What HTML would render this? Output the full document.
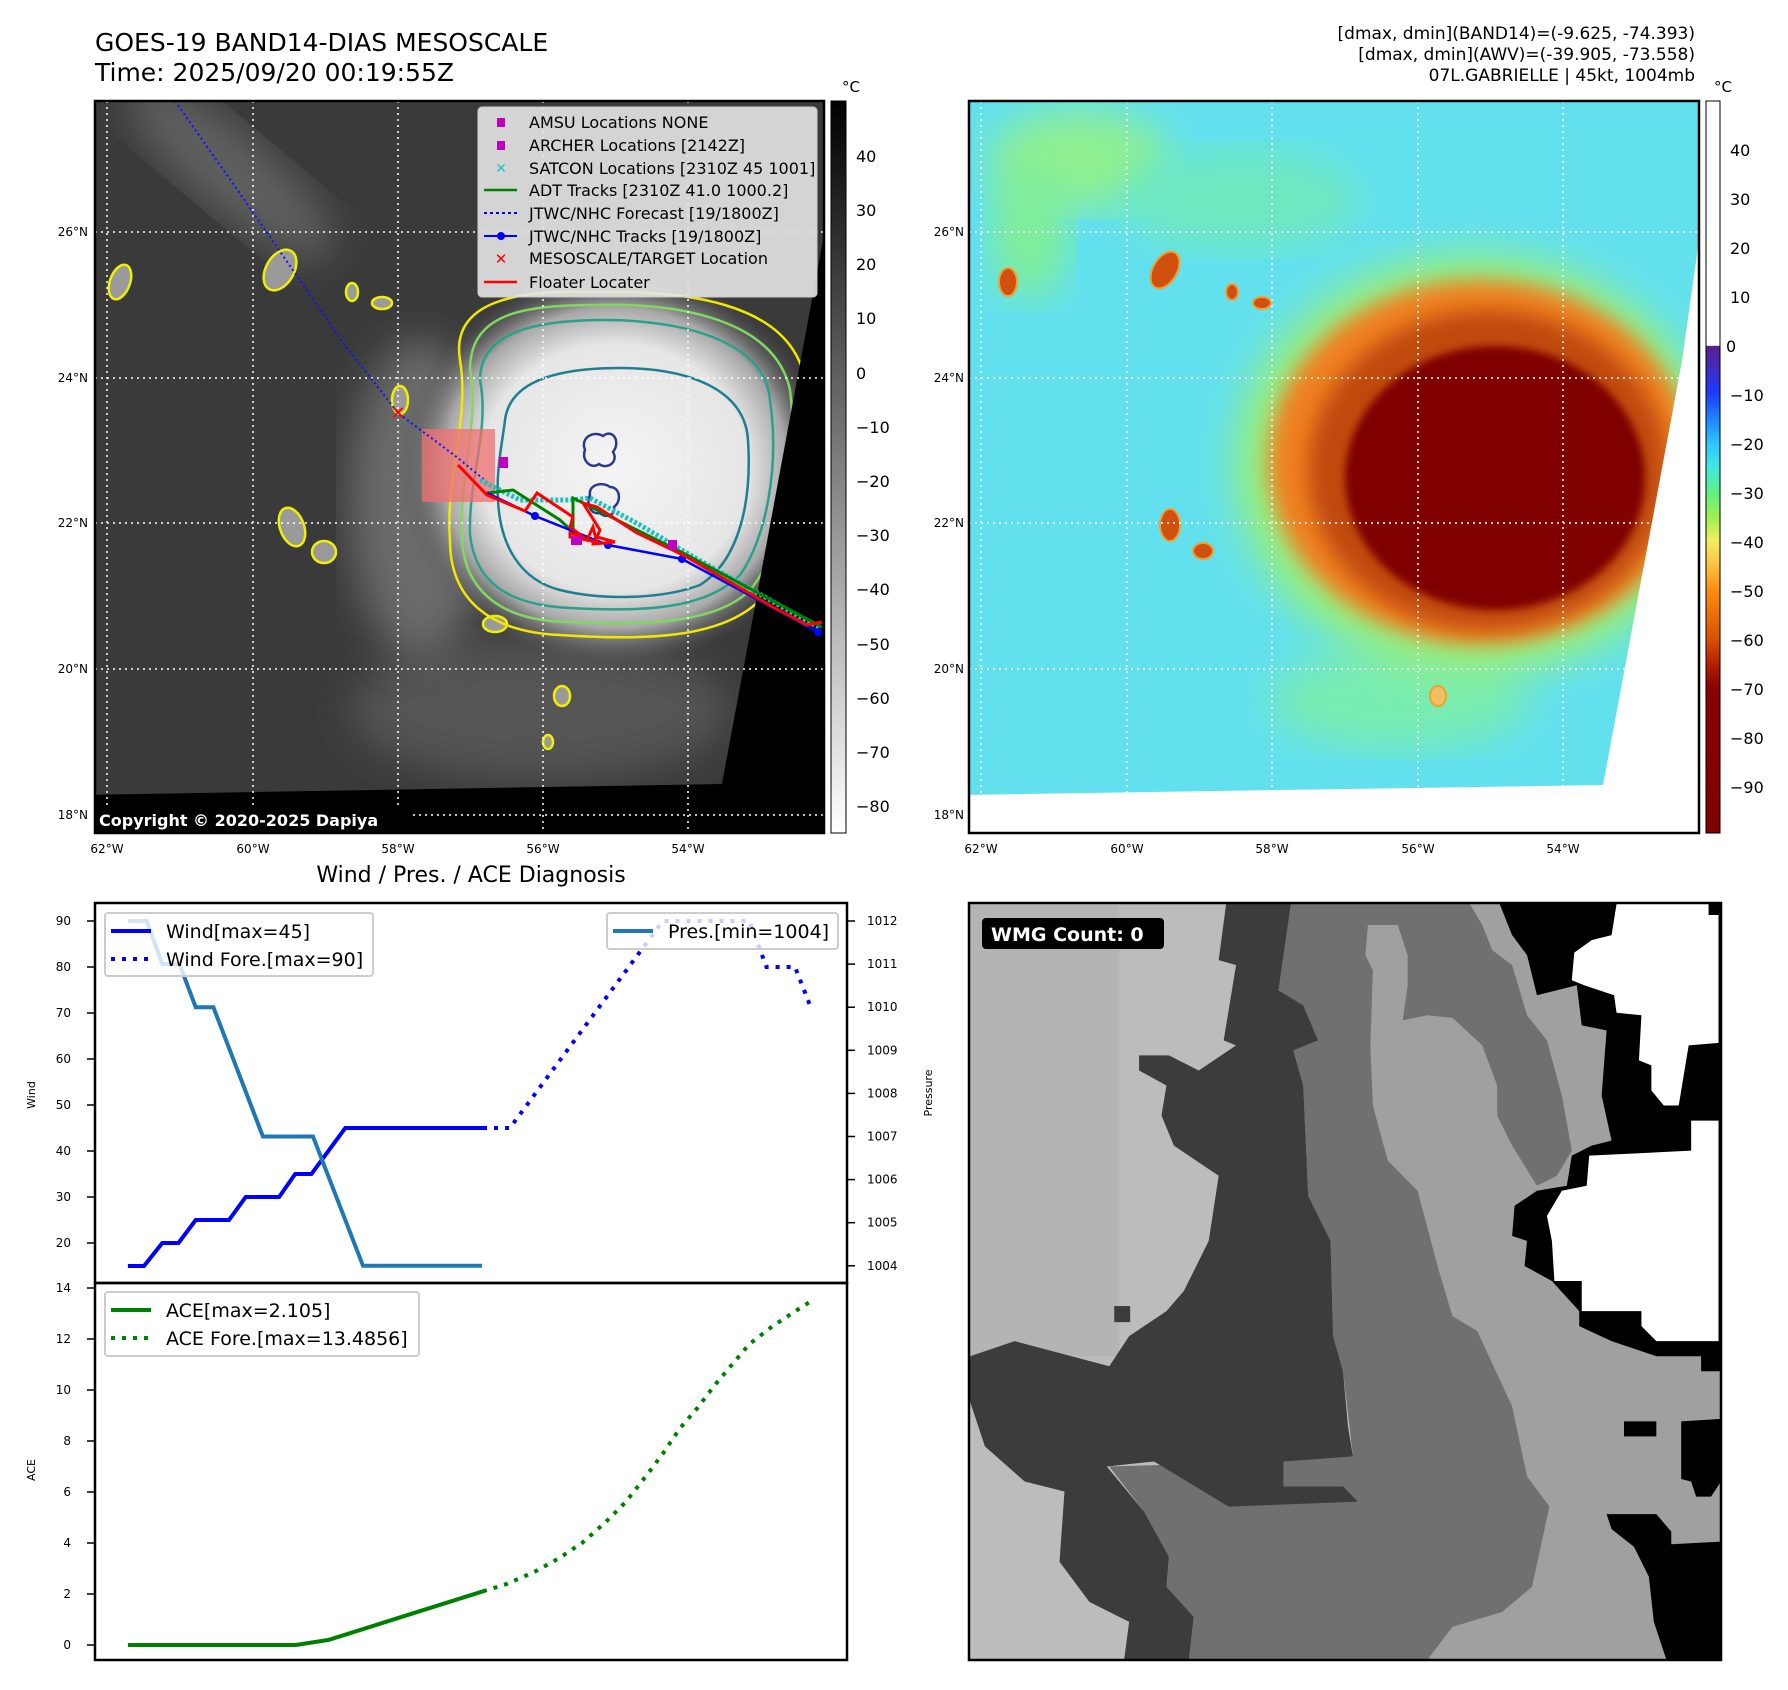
<!DOCTYPE html>
<html><head><meta charset="utf-8">
<style>
html,body{margin:0;padding:0;background:#fff;}
svg{display:block;font-family:"DejaVu Sans","Liberation Sans",sans-serif;}
</style></head>
<body>
<svg id="root" width="1788" height="1690" viewBox="0 0 1788 1690" xmlns="http://www.w3.org/2000/svg">
<defs>
  <filter id="b4"><feGaussianBlur stdDeviation="4"/></filter>
  <filter id="b10"><feGaussianBlur stdDeviation="10"/></filter>
  <filter id="b20"><feGaussianBlur stdDeviation="20"/></filter>
  <clipPath id="c1"><rect x="95" y="101" width="729" height="732"/></clipPath>
  <clipPath id="c2"><rect x="969" y="101" width="730" height="732"/></clipPath>
  <radialGradient id="storm1" cx="0.5" cy="0.5" r="0.5">
    <stop offset="0" stop-color="#f4f4f4"/><stop offset="0.62" stop-color="#e6e6e6"/>
    <stop offset="0.8" stop-color="#a8a8a8"/><stop offset="1" stop-color="#4a4a4a" stop-opacity="0"/>
  </radialGradient>
  <linearGradient id="cb1" x1="0" y1="0" x2="0" y2="1">
    <stop offset="0" stop-color="#000"/><stop offset="1" stop-color="#fff"/>
  </linearGradient>
  <linearGradient id="cb2" x1="0" y1="0" x2="0" y2="1">
    <stop offset="0" stop-color="#fff"/><stop offset="0.334" stop-color="#fff"/>
    <stop offset="0.335" stop-color="#5a1e8c"/><stop offset="0.40" stop-color="#1e3cff"/>
    <stop offset="0.44" stop-color="#1e90ff"/><stop offset="0.47" stop-color="#30c8ff"/>
    <stop offset="0.50" stop-color="#40e8e0"/><stop offset="0.535" stop-color="#60f080"/>
    <stop offset="0.57" stop-color="#a0f050"/><stop offset="0.60" stop-color="#f0f060"/>
    <stop offset="0.635" stop-color="#ffc040"/><stop offset="0.669" stop-color="#ff8c10"/>
    <stop offset="0.736" stop-color="#d85000"/><stop offset="0.77" stop-color="#b02000"/>
    <stop offset="0.803" stop-color="#8a0000"/><stop offset="1" stop-color="#800000"/>
  </linearGradient>
</defs>

<!-- titles -->
<text x="95" y="51" font-size="25">GOES-19 BAND14-DIAS MESOSCALE</text>
<text x="95" y="81" font-size="25">Time: 2025/09/20 00:19:55Z</text>
<g font-size="17" text-anchor="end">
<text x="1695" y="39">[dmax, dmin](BAND14)=(-9.625, -74.393)</text>
<text x="1695" y="60">[dmax, dmin](AWV)=(-39.905, -73.558)</text>
<text x="1695" y="81">07L.GABRIELLE | 45kt, 1004mb</text>
</g>

<!-- MAP 1 -->
<g clip-path="url(#c1)">
  <rect x="95" y="101" width="729" height="732" fill="#3a3a3a"/>
  <ellipse cx="230" cy="170" rx="130" ry="40" fill="#5e5e5e" filter="url(#b20)" transform="rotate(40 230 170)"/>
  <ellipse cx="540" cy="710" rx="190" ry="70" fill="#555" filter="url(#b20)"/>
  <ellipse cx="420" cy="500" rx="70" ry="160" fill="#6a6a6a" filter="url(#b20)"/>
  <ellipse cx="615" cy="468" rx="215" ry="200" fill="url(#storm1)"/>
  <g fill="#9a9a9a" stroke="#f0f000" stroke-width="2.5">
    <ellipse cx="280" cy="270" rx="14" ry="22" transform="rotate(30 280 270)"/>
    <ellipse cx="120" cy="282" rx="10" ry="18" transform="rotate(20 120 282)"/>
    <ellipse cx="292" cy="527" rx="12" ry="20" transform="rotate(-20 292 527)"/>
    <ellipse cx="324" cy="552" rx="12" ry="11"/>
    <ellipse cx="382" cy="303" rx="10" ry="6"/>
    <ellipse cx="352" cy="292" rx="6" ry="9"/>
    <ellipse cx="562" cy="696" rx="8" ry="10"/>
    <ellipse cx="495" cy="624" rx="12" ry="8"/>
    <ellipse cx="400" cy="400" rx="8" ry="14"/>
    <ellipse cx="548" cy="742" rx="5" ry="7"/>
  </g>
  <g fill="none" stroke-width="2.5">
    <path d="M460,360 C450,300 520,290 590,292 C680,290 790,300 805,380 C815,470 790,560 760,600 C720,640 640,640 560,635 C490,632 450,600 450,540 C445,480 470,420 460,360 Z" stroke="#f0e800"/>
    <path d="M470,370 C470,310 530,305 600,305 C680,303 775,320 790,390 C800,470 780,555 750,590 C715,625 640,625 565,622 C500,620 465,590 462,540 C458,480 480,420 470,370 Z" stroke="#80d860"/>
    <path d="M480,380 C480,330 540,320 605,320 C680,320 765,340 770,400 C780,470 765,540 740,575 C705,610 640,612 570,608 C505,605 475,580 470,535 C468,480 490,430 480,380 Z" stroke="#2aa08a"/>
    <path d="M505,420 C510,380 560,368 620,368 C690,368 745,390 748,440 C752,500 740,560 700,585 C660,600 600,600 560,590 C520,580 500,545 498,500 C496,470 502,445 505,420 Z" stroke="#1f7f90"/>
    <path d="M585,450 c-5,-12 8,-20 18,-14 c10,-8 18,6 10,16 c6,10 -6,18 -14,12 c-8,6 -18,-4 -14,-14 Z" stroke="#2b3a8a"/>
    <path d="M590,495 c-2,-10 12,-14 20,-8 c10,0 12,14 4,20 c2,8 -8,12 -14,6 c-10,2 -14,-10 -10,-18 Z" stroke="#2b3a8a"/>
  </g>
  <polygon points="828,213 850,213 850,850 80,850 80,795 722,784" fill="#000"/>
  <g stroke="#fff" stroke-width="1.5" stroke-dasharray="2,4">
    <line x1="107" y1="101" x2="107" y2="833"/><line x1="253" y1="101" x2="253" y2="833"/>
    <line x1="398" y1="101" x2="398" y2="833"/><line x1="543" y1="101" x2="543" y2="833"/>
    <line x1="688" y1="101" x2="688" y2="833"/>
    <line x1="95" y1="232" x2="824" y2="232"/><line x1="95" y1="378" x2="824" y2="378"/>
    <line x1="95" y1="523" x2="824" y2="523"/><line x1="95" y1="669" x2="824" y2="669"/>
    <line x1="95" y1="815" x2="824" y2="815"/>
  </g>
  <rect x="422" y="429" width="73" height="73" fill="#f07070" opacity="0.75"/>
  <polyline points="175,101 241,195 344,344 398,413 458,458 493,487" fill="none" stroke="#1010ff" stroke-width="2" stroke-dasharray="2,3"/>
  <g>
    <polyline points="480,480 520,500 573,500 590,498 640,525 690,555 820,628" fill="none" stroke="#20c0c0" stroke-width="5" stroke-dasharray="3,2"/>
  </g>
  <polyline points="487,493 513,490 560,520 573,532 573,498 637,530 687,555 822,627" fill="none" stroke="#008000" stroke-width="3"/>
  <polyline points="487,493 535,516 608,545 682,559 818,632" fill="none" stroke="#0000ff" stroke-width="2.5"/>
  <g fill="#0000ff"><circle cx="535" cy="516" r="4"/><circle cx="608" cy="545" r="4"/><circle cx="682" cy="559" r="4"/><circle cx="818" cy="632" r="4"/></g>
  <polyline points="458,465 487,495 525,511 537,493 573,517 570,527 587,540 593,527 597,543 570,533 570,537 593,541 593,544 615,542 597,537 600,530 583,503 597,507 637,533 683,555 773,607 807,625 822,622" fill="none" stroke="#ff0000" stroke-width="3"/>
  <g fill="#c000c0"><rect x="499" y="457" width="9" height="11"/><rect x="571" y="536" width="11" height="9"/><rect x="668" y="540" width="9" height="10"/></g>
  <text x="398" y="419" font-size="18" font-weight="bold" fill="#ff0000" text-anchor="middle">✕</text>
  <rect x="95" y="806" width="318" height="27" fill="#000"/>
  <text x="99" y="826" font-size="16" font-weight="bold" fill="#fff">Copyright © 2020-2025 Dapiya</text>
  <g>
    <rect x="478" y="107" width="339" height="190" rx="4" fill="#e6e6e6" fill-opacity="0.9" stroke="#ccc"/>
    <rect x="497" y="118" width="8" height="9" fill="#c000c0"/>
    <rect x="497" y="141" width="8" height="9" fill="#c000c0"/>
    <text x="501" y="173" font-size="14" font-weight="bold" fill="#20c0c0" text-anchor="middle">✕</text>
    <line x1="484" y1="190" x2="517" y2="190" stroke="#008000" stroke-width="2.5"/>
    <line x1="484" y1="213" x2="517" y2="213" stroke="#0000ff" stroke-width="2" stroke-dasharray="3,3"/>
    <line x1="484" y1="236" x2="517" y2="236" stroke="#0000ff" stroke-width="2"/><circle cx="501" cy="236" r="4" fill="#0000ff"/>
    <text x="501" y="264" font-size="15" font-weight="bold" fill="#ff0000" text-anchor="middle">✕</text>
    <line x1="484" y1="282" x2="517" y2="282" stroke="#ff0000" stroke-width="2.5"/>
    <g font-size="16" fill="#000">
      <text x="529" y="128">AMSU Locations NONE</text>
      <text x="529" y="151">ARCHER Locations [2142Z]</text>
      <text x="529" y="174">SATCON Locations [2310Z 45 1001]</text>
      <text x="529" y="196">ADT Tracks [2310Z 41.0 1000.2]</text>
      <text x="529" y="219">JTWC/NHC Forecast [19/1800Z]</text>
      <text x="529" y="242">JTWC/NHC Tracks [19/1800Z]</text>
      <text x="529" y="264">MESOSCALE/TARGET Location</text>
      <text x="529" y="288">Floater Locater</text>
    </g>
  </g>
</g>
<rect x="95" y="101" width="729" height="732" fill="none" stroke="#000" stroke-width="2.5"/>
<g font-size="12">
  <g text-anchor="end"><text x="88" y="236">26°N</text><text x="88" y="382">24°N</text><text x="88" y="527">22°N</text><text x="88" y="673">20°N</text><text x="88" y="819">18°N</text></g>
  <g text-anchor="middle"><text x="107" y="853">62°W</text><text x="253" y="853">60°W</text><text x="398" y="853">58°W</text><text x="543" y="853">56°W</text><text x="688" y="853">54°W</text></g>
</g>
<rect x="831" y="101" width="15" height="732" fill="url(#cb1)" stroke="#000" stroke-width="1"/>
<text x="842" y="92" font-size="15">°C</text>
<g font-size="16">
  <text x="856" y="162">40</text><text x="856" y="216">30</text><text x="856" y="270">20</text><text x="856" y="324">10</text><text x="856" y="379">0</text>
  <text x="856" y="433">−10</text><text x="856" y="487">−20</text><text x="856" y="541">−30</text><text x="856" y="595">−40</text><text x="856" y="650">−50</text>
  <text x="856" y="704">−60</text><text x="856" y="758">−70</text><text x="856" y="812">−80</text>
</g>

<!-- MAP 2 -->
<g clip-path="url(#c2)">
  <rect x="969" y="101" width="730" height="732" fill="#62e0ee"/>
  <ellipse cx="1080" cy="160" rx="90" ry="50" fill="#90f090" filter="url(#b20)"/>
  <ellipse cx="1030" cy="230" rx="40" ry="70" fill="#80ee98" filter="url(#b20)"/>
  <ellipse cx="1240" cy="200" rx="120" ry="50" fill="#6ee8c0" filter="url(#b20)"/>
  <ellipse cx="1400" cy="700" rx="130" ry="50" fill="#78ecb0" filter="url(#b20)"/>
  <ellipse cx="1475" cy="465" rx="240" ry="210" fill="#98f078" filter="url(#b20)"/>
  <ellipse cx="1480" cy="462" rx="212" ry="182" fill="#f08020" filter="url(#b10)"/>
  <ellipse cx="1488" cy="470" rx="180" ry="160" fill="#c04808" filter="url(#b10)"/>
  <ellipse cx="1495" cy="478" rx="150" ry="132" fill="#800000" filter="url(#b4)"/>
  <g fill="#d05010" stroke="#f0a030" stroke-width="2">
    <ellipse cx="1165" cy="270" rx="12" ry="20" transform="rotate(30 1165 270)"/>
    <ellipse cx="1008" cy="282" rx="9" ry="14"/>
    <ellipse cx="1170" cy="525" rx="10" ry="16"/>
    <ellipse cx="1203" cy="551" rx="10" ry="8"/>
    <ellipse cx="1262" cy="303" rx="9" ry="6"/>
    <ellipse cx="1232" cy="292" rx="6" ry="8"/>
    <ellipse cx="1438" cy="696" rx="8" ry="10" fill="#f0c060"/>
  </g>
  <polygon points="1699,240 1720,240 1720,850 960,850 960,795 1603,785 1682,361" fill="#fff"/>
  <g stroke="#fff" stroke-width="1.5" stroke-dasharray="2,4">
    <line x1="981" y1="101" x2="981" y2="833"/><line x1="1127" y1="101" x2="1127" y2="833"/>
    <line x1="1272" y1="101" x2="1272" y2="833"/><line x1="1418" y1="101" x2="1418" y2="833"/>
    <line x1="1563" y1="101" x2="1563" y2="833"/>
    <line x1="969" y1="232" x2="1699" y2="232"/><line x1="969" y1="378" x2="1699" y2="378"/>
    <line x1="969" y1="523" x2="1699" y2="523"/><line x1="969" y1="669" x2="1699" y2="669"/>
  </g>
</g>
<rect x="969" y="101" width="730" height="732" fill="none" stroke="#000" stroke-width="2.5"/>
<g font-size="12">
  <g text-anchor="end"><text x="964" y="236">26°N</text><text x="964" y="382">24°N</text><text x="964" y="527">22°N</text><text x="964" y="673">20°N</text><text x="964" y="819">18°N</text></g>
  <g text-anchor="middle"><text x="981" y="853">62°W</text><text x="1127" y="853">60°W</text><text x="1272" y="853">58°W</text><text x="1418" y="853">56°W</text><text x="1563" y="853">54°W</text></g>
</g>
<rect x="1706" y="101" width="14" height="732" fill="url(#cb2)" stroke="#000" stroke-width="1"/>
<text x="1714" y="92" font-size="15">°C</text>
<g font-size="16">
  <text x="1730" y="156">40</text><text x="1730" y="205">30</text><text x="1730" y="254">20</text><text x="1730" y="303">10</text><text x="1726" y="352">0</text>
  <text x="1730" y="401">−10</text><text x="1730" y="450">−20</text><text x="1730" y="499">−30</text><text x="1730" y="548">−40</text><text x="1730" y="597">−50</text>
  <text x="1730" y="646">−60</text><text x="1730" y="695">−70</text><text x="1730" y="744">−80</text><text x="1730" y="793">−90</text>
</g>

<!-- WMG panel -->
<g>
<svg x="969" y="903" width="752" height="757" viewBox="18 16 1512 1510" preserveAspectRatio="none">
  <rect x="0" y="0" width="1600" height="1600" fill="#bcbcbc"/>
  <rect x="20" y="20" width="300" height="900" fill="#b4b4b4"/>
  <polygon points="640,18 1530,18 1530,1525 460,1525 470,1440 415,1380 420,1320 370,1230 300,1140 640,1130 790,1120 770,950 750,880 745,690 700,600 690,380 670,310 720,290 690,220 640,190" fill="#707070"/>
  <polygon points="1025,18 1530,18 1530,1525 940,1525 990,1460 1090,1430 1150,1380 1185,1220 1140,1160 1110,1020 1040,870 990,840 960,740 920,590 860,530 830,420 825,300 830,150 815,120 820,60 880,60 900,120 900,180 890,250 940,240 990,245 1050,300 1080,380 1080,440 1110,500 1160,580 1200,560 1230,510 1210,400 1180,290 1140,240 1110,140 1070,110 1050,60" fill="#a0a0a0"/>
  <polygon points="1085,18 1530,18 1530,950 1490,950 1490,920 1400,920 1310,890 1245,860 1245,830 1190,770 1135,740 1140,690 1110,680 1115,620 1160,590 1220,580 1230,520 1270,500 1310,490 1290,400 1300,270 1250,260 1240,180 1160,200 1140,120 1110,80" fill="#000"/>
  <polygon points="1320,18 1505,18 1505,40 1525,40 1525,295 1465,300 1445,420 1415,420 1390,390 1390,340 1365,330 1370,240 1320,235 1315,200 1255,180 1230,170 1235,115 1270,90 1310,80" fill="#fff"/>
  <polygon points="1265,520 1470,510 1470,450 1525,450 1525,890 1400,890 1370,860 1370,830 1250,830 1250,770 1195,770 1190,690 1180,640 1210,590 1260,580" fill="#fff"/>
  <polygon points="1300,1235 1400,1235 1430,1270 1430,1295 1530,1290 1530,1525 1420,1525 1395,1450 1385,1360 1355,1300 1310,1265" fill="#000"/>
  <polygon points="1450,1050 1530,1045 1530,1170 1510,1200 1480,1200 1470,1170 1450,1165" fill="#000"/>
  <rect x="1335" y="1050" width="65" height="30" fill="#000"/>
  <polygon points="535,18 665,18 640,190 690,220 720,290 670,310 690,380 700,600 745,690 750,880 770,950 780,1060 790,1120 650,1130 650,1180 770,1180 800,1210 540,1220 390,1130 295,1140 370,1230 420,1320 415,1380 470,1440 460,1525 330,1525 340,1450 260,1410 200,1330 210,1190 130,1170 50,1100 20,1010 20,920 110,890 300,940 340,880 415,830 450,790 500,690 520,560 490,540 430,500 405,440 415,380 360,350 360,320 420,320 480,350 555,300 530,290 555,140 520,130" fill="#3c3c3c"/>
  <rect x="310" y="820" width="32" height="32" fill="#3c3c3c"/>
</svg>
<rect x="969" y="903" width="752" height="757" fill="none" stroke="#000" stroke-width="2.5"/>
<rect x="982" y="918" width="182" height="31" rx="4" fill="#000"/>
<text x="991" y="941" font-size="19" font-weight="bold" fill="#fff">WMG Count: 0</text>
</g>

<!-- Bottom chart -->
<text x="471" y="882" font-size="22" text-anchor="middle">Wind / Pres. / ACE Diagnosis</text>
<g id="chart"></g>
</svg>

<script>
// ---- data ----
const windHours = [0, 3, 6.4, 9.4, 12.6, 18.8, 21.9, 28.1, 31.1, 34.1, 40.4, 66];
const windValues = [15, 15, 20, 20, 25, 25, 30, 30, 35, 35, 45, 45];
const windForeHours = [66, 71, 99.4, 115.5, 118.7, 124, 127];
const windForeValues = [45, 45, 90, 90, 80, 80, 71];
const presHours = [0, 3.5, 6.4, 9.6, 12.6, 15.9, 25.1, 34.4, 43.7, 65.8];
const presValues = [1012, 1012, 1011, 1011, 1010, 1010, 1007, 1007, 1004, 1004];
const aceHours = [0, 31.2, 37.3, 66];
const aceValues = [0, 0, 0.2, 2.105];
const aceForeHours = [66, 70.5, 75.9, 80.1, 84.4, 88.7, 92.5, 96.2, 99.4, 102.6, 105.9, 109.1, 112.3, 115.5, 119.8, 124.1, 127];
const aceForeValues = [2.105, 2.4, 2.9, 3.4, 4.0, 4.8, 5.6, 6.6, 7.5, 8.5, 9.3, 10.2, 11.0, 11.8, 12.5, 13.1, 13.49];
const windTicks = [20, 30, 40, 50, 60, 70, 80, 90];
const presTicks = [1004, 1005, 1006, 1007, 1008, 1009, 1010, 1011, 1012];
const aceTicks = [0, 2, 4, 6, 8, 10, 12, 14];

// ---- axes ----
const X0 = 95, X1 = 847, YT = 903, YM = 1283, YB = 1660;
const xOf = t => 127.9 + 5.38 * t;
const yWind = w => 921 + (90 - w) * 4.6;
const yPres = p => 921 + (1012 - p) * 43.1;
const yAce = a => 1645 - a * 25.5;
const NS = 'http://www.w3.org/2000/svg';
const chart = document.getElementById('chart');
function mk(tag, attrs, parent) {
  const e = document.createElementNS(NS, tag);
  for (const k in attrs) e.setAttribute(k, attrs[k]);
  (parent || chart).appendChild(e);
  return e;
}
function pts(hs, vs, yf) { return hs.map((h, i) => xOf(h).toFixed(1) + ',' + yf(vs[i]).toFixed(1)).join(' '); }

let f1 = mk('rect', {x: X0, y: YT, width: X1 - X0, height: YM - YT, fill: 'none', stroke: '#000', 'stroke-width': 2.5});


let f2 = mk('rect', {x: X0, y: YM, width: X1 - X0, height: YB - YM, fill: 'none', stroke: '#000', 'stroke-width': 2.5});



windTicks.forEach(v => {
  const y = yWind(v);
  mk('line', {x1: X0 - 8, y1: y, x2: X0, y2: y, stroke: '#000', 'stroke-width': 1.5});
  const t = mk('text', {x: X0 - 24, y: y + 4, 'font-size': 12, 'text-anchor': 'end'});
  t.textContent = v;
  
  
});
presTicks.forEach(v => {
  const y = yPres(v);
  mk('line', {x1: X1, y1: y, x2: X1 + 8, y2: y, stroke: '#000', 'stroke-width': 1.5});
  const t = mk('text', {x: X1 + 20, y: y + 4, 'font-size': 12});
  t.textContent = v;
  
  
});
aceTicks.forEach(v => {
  const y = yAce(v);
  mk('line', {x1: X0 - 8, y1: y, x2: X0, y2: y, stroke: '#000', 'stroke-width': 1.5});
  const t = mk('text', {x: X0 - 24, y: y + 4, 'font-size': 12, 'text-anchor': 'end'});
  t.textContent = v;
  
  
});
let la = mk('text', {x: 0, y: 0, 'font-size': 11, 'text-anchor': 'middle', transform: 'translate(35,1095) rotate(-90)'});
la.textContent = 'Wind';


let lp = mk('text', {x: 0, y: 0, 'font-size': 11, 'text-anchor': 'middle', transform: 'translate(932,1093) rotate(-90)'});
lp.textContent = 'Pressure';


let lc = mk('text', {x: 0, y: 0, 'font-size': 11, 'text-anchor': 'middle', transform: 'translate(35,1470) rotate(-90)'});
lc.textContent = 'ACE';



let s1 = mk('polyline', {points: pts(windForeHours, windForeValues, yWind), fill: 'none', stroke: '#0000ff', 'stroke-width': 4, 'stroke-dasharray': '4,7'});


let s2 = mk('polyline', {points: pts(windHours, windValues, yWind), fill: 'none', stroke: '#0000ff', 'stroke-width': 4});


let s3 = mk('polyline', {points: pts(presHours, presValues, yPres), fill: 'none', stroke: '#1f77b4', 'stroke-width': 4});


let s4 = mk('polyline', {points: pts(aceHours, aceValues, yAce), fill: 'none', stroke: '#008000', 'stroke-width': 4});


let s5 = mk('polyline', {points: pts(aceForeHours, aceForeValues, yAce), fill: 'none', stroke: '#008000', 'stroke-width': 4, 'stroke-dasharray': '4,7'});



function legend(name, x, y, w, h, items) {
  const g = mk('g', {});
  
  
  mk('rect', {x: x, y: y, width: w, height: h, rx: 3, fill: '#fff', 'fill-opacity': 0.8, stroke: '#ccc', 'stroke-width': 2}, g);
  items.forEach((it, i) => {
    const cy = y + 18 + i * 28;
    const a = {x1: x + 6, y1: cy, x2: x + 46, y2: cy, stroke: it.c, 'stroke-width': 4};
    if (it.d) a['stroke-dasharray'] = '4,7';
    mk('line', a, g);
    const t = mk('text', {x: x + 61, y: cy + 7, 'font-size': 19}, g);
    t.textContent = it.t;
  });
}
legend('wind-legend', 105, 913, 268, 63, [{c: '#0000ff', t: 'Wind[max=45]'}, {c: '#0000ff', t: 'Wind Fore.[max=90]', d: 1}]);
legend('pressure-legend', 607, 913, 231, 36, [{c: '#1f77b4', t: 'Pres.[min=1004]'}]);
legend('ace-legend', 105, 1292, 314, 64, [{c: '#008000', t: 'ACE[max=2.105]'}, {c: '#008000', t: 'ACE Fore.[max=13.4856]', d: 1}]);
</script>
</body></html>
